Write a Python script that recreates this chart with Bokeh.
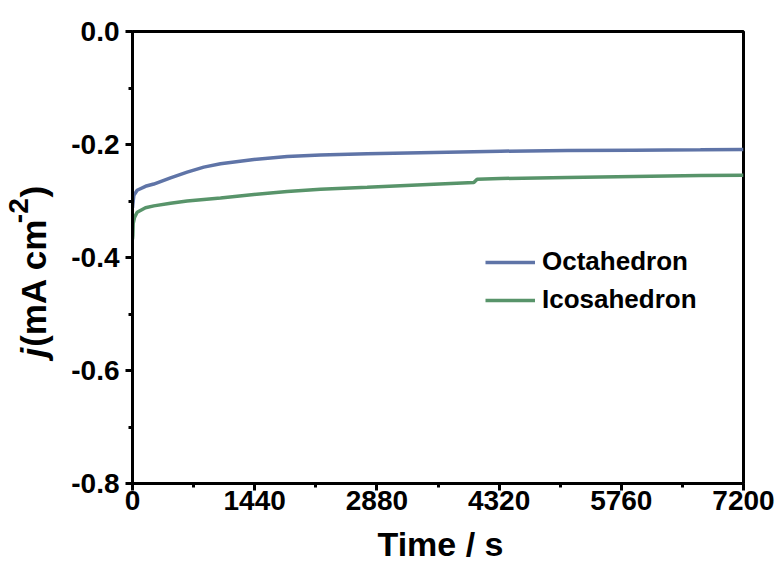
import math
from bokeh.plotting import figure
from bokeh.layouts import row, column
from bokeh.models import Range1d, FixedTicker, Label, Legend, LegendItem
from bokeh.embed import file_html
from bokeh.resources import INLINE

# ---- data ----
oct_t = [0, 4, 16, 55, 153, 251, 448, 644, 840, 1037, 1430, 1823, 2215, 2765, 3550, 4336, 5122, 5907, 6693, 7200]
oct_j = [-0.312, -0.306, -0.290, -0.281, -0.274, -0.270, -0.259, -0.249, -0.240, -0.234, -0.2266, -0.2212,
         -0.2185, -0.2165, -0.2142, -0.2119, -0.2106, -0.2101, -0.2095, -0.2088]

ico_t = [0, 4, 8, 24, 55, 153, 251, 448, 644, 1037, 1430, 1823, 2215, 2765, 3550, 4022, 4061, 4336, 5122, 5907, 6693, 7200]
ico_j = [-0.368, -0.361, -0.340, -0.329, -0.320, -0.312, -0.3086, -0.304, -0.300, -0.2945, -0.2885, -0.2832,
         -0.2790, -0.2756, -0.2702, -0.2673, -0.2614, -0.2602, -0.2584, -0.2566, -0.2549, -0.2543]

series_names = ["Octahedron", "Icosahedron"]
series_colors = ["#5f74a7", "#58946a"]

x_ticks = [0, 1440, 2880, 4320, 5760, 7200]
x_minor = [720, 2160, 3600, 5040, 6480]
y_ticks = [-0.8, -0.6, -0.4, -0.2, 0.0]
y_minor = [-0.7, -0.5, -0.3, -0.1]

x_label = "Time / s"
y_label_parts = ["j", "(mA cm", "-2", ")"]

FONT = "Liberation Sans"

# ---- layout sizes ----
W, H = 778, 564
LW = 60                     # left strip: rotated y-axis title
BH = 42                     # bottom strip: x-axis title
PH = H - BH                 # height of the plot row
ML, MR, MT = 132 - LW, 35, 31
MB = PH - MT - 452
X0, X1, Y0, Y1 = 0, 7200, -0.8, 0.0

# ---- main plot ----
p = figure(width=W - LW, height=PH, output_backend="svg", toolbar_location=None,
           x_range=Range1d(X0, X1), y_range=Range1d(Y0, Y1), title=None,
           min_border_left=ML, min_border_right=MR, min_border_top=MT, min_border_bottom=MB)
p.grid.visible = False
p.outline_line_color = "black"
p.outline_line_width = 3
p.outline_line_alpha = 1
p.background_fill_color = "white"
p.border_fill_color = "white"

for ax, ticks, minor in ((p.xaxis[0], x_ticks, x_minor), (p.yaxis[0], y_ticks, y_minor)):
    ax.ticker = FixedTicker(ticks=ticks, minor_ticks=minor)
    ax.axis_line_width = 3
    ax.axis_line_color = "black"
    ax.major_tick_line_width = 3
    ax.major_tick_out = 7
    ax.major_tick_in = 0
    ax.minor_tick_line_width = 3
    ax.minor_tick_out = 4
    ax.minor_tick_in = 0
    ax.major_label_text_font = FONT
    ax.major_label_text_font_style = "bold"
    ax.major_label_text_color = "black"
    ax.major_label_text_font_size = "28px"

p.xaxis[0].major_label_standoff = 0
p.yaxis[0].major_label_standoff = 6
p.xaxis[0].major_label_overrides = {t: str(t) for t in x_ticks}
p.yaxis[0].major_label_overrides = {t: f"{t:.1f}" for t in y_ticks}

renderers = []
for t, j, c in ((oct_t, oct_j, series_colors[0]), (ico_t, ico_j, series_colors[1])):
    renderers.append(p.line(t, j, line_color=c, line_width=3.5))

legend = Legend(items=[LegendItem(label=n, renderers=[r]) for n, r in zip(series_names, renderers)],
                location=(353, 168), padding=0, margin=0, spacing=7,
                glyph_width=50, glyph_height=30, label_standoff=7,
                label_text_font=FONT, label_text_font_style="bold", label_text_font_size="26px",
                label_text_color="black",
                border_line_color=None, background_fill_alpha=0)
p.add_layout(legend, "center")


def strip(w, h):
    s = figure(width=w, height=h, output_backend="svg", toolbar_location=None,
               x_range=Range1d(0, w), y_range=Range1d(0, h), title=None,
               x_axis_type=None, y_axis_type=None,
               min_border_left=0, min_border_right=0, min_border_top=0, min_border_bottom=0)
    s.grid.visible = False
    s.outline_line_color = None
    s.background_fill_color = "white"
    s.border_fill_color = "white"
    return s

# ---- left strip: y-axis title, pieces placed at their reference positions (page px) ----
q = strip(LW, PH)
fs, sup = 35, 28
SHIFT = 28   # empirical correction for the rotated text box anchor
pieces = [  # (centre along the text in page y, centre across in page x, size, style)
    (343, 33, fs, "bold italic"),
    (262, 33, fs, "bold"),
    (179, 18, sup, "bold"),
    (157, 33, fs, "bold"),
]
for txt, (cy, cx, size, style) in zip(y_label_parts, pieces):
    q.add_layout(Label(x=cx, y=PH - cy - SHIFT, text=txt, angle=math.pi / 2,
                       text_align="center", text_baseline="middle",
                       text_font=FONT, text_font_style=style, text_font_size=f"{size}px",
                       text_color="black"))

# ---- bottom strip: x-axis title ----
r = strip(W, BH)
r.add_layout(Label(x=440, y=BH - (543 - PH), text=x_label, text_align="center", text_baseline="middle",
                   text_font=FONT, text_font_style="bold", text_font_size="34px", text_color="black"))

layout = column(row(q, p, spacing=0), r, spacing=0)
open("out.html", "w").write(file_html(layout, INLINE))
